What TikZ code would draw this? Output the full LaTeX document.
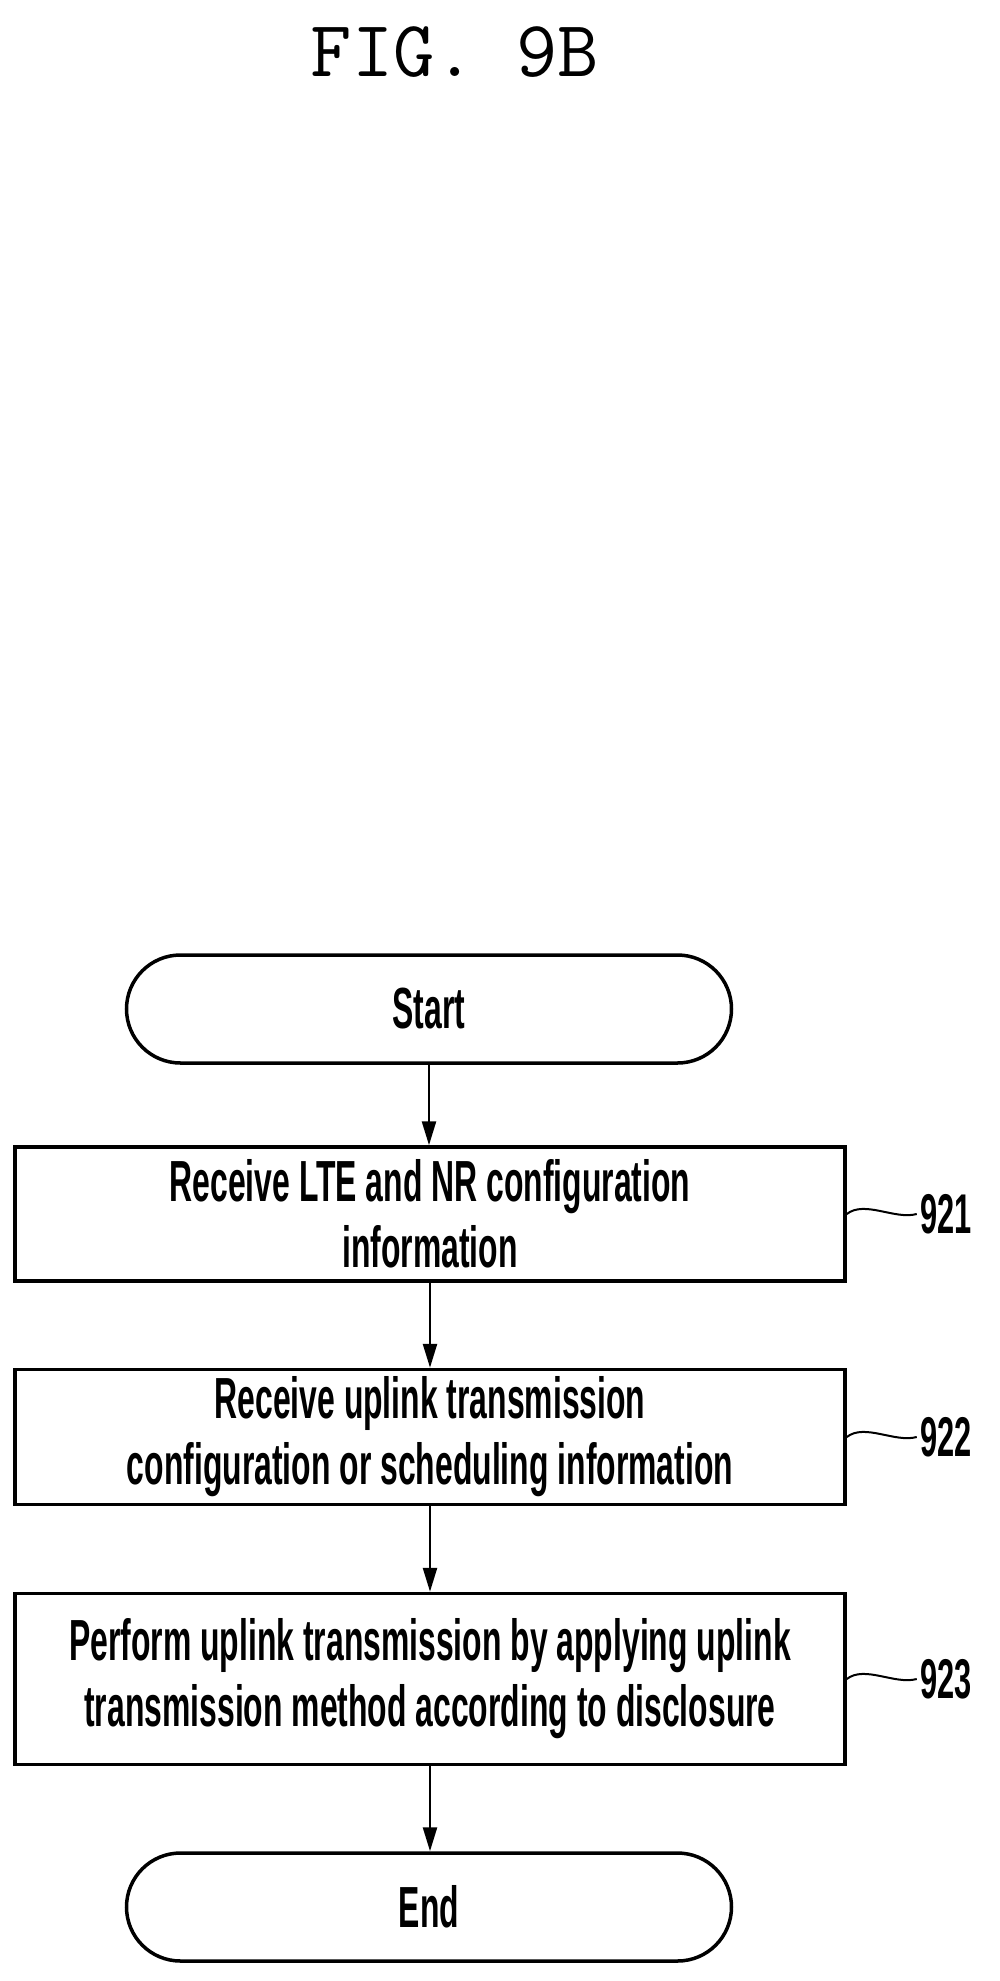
\documentclass[tikz,border=0pt]{standalone}
\usepackage{fontspec}
\newfontfamily\condfont[FakeStretch=0.55]{Liberation Sans}
\usetikzlibrary{arrows.meta,positioning}
\tikzset{
  stepbox/.style={draw,line width=3.5pt,minimum width=830pt,align=center,font=\condfont\bfseries\fontsize{58}{66}\selectfont},
  termbox/.style={draw,line width=3.5pt,rounded corners=54pt,minimum width=605pt,minimum height=108pt,font=\condfont\bfseries\fontsize{58}{66}\selectfont},
  flow/.style={line width=2.5pt,-{Triangle[width=14pt,length=24pt]}},
  reflabel/.style={font=\condfont\bfseries\fontsize{56}{60}\selectfont,anchor=west}
}
\begin{document}
\begin{tikzpicture}[x=1pt,y=-1pt]
  \useasboundingbox (0,0) rectangle (999,1981);

  % title
  \node[font=\ttfamily\fontsize{80}{80}\selectfont] (title) at (455,52) {FIG. 9B};

  % steps
  \node[termbox] (start) at (429,1009) {Start};
  \node[stepbox,minimum height=134pt] (s921) at (430,1214) {Receive LTE and NR configuration\\information};
  \node[stepbox,minimum height=135pt] (s922) at (430,1437) {Receive uplink transmission\\configuration or scheduling information};
  \node[stepbox,minimum height=171pt] (s923) at (430,1679) {Perform uplink transmission by applying uplink\\transmission method according to disclosure};
  \node[termbox] (end) at (429,1907) {End};

  % arrows
  \draw[flow] (start) -- (start|-s921.north);
  \draw[flow] (s921) -- (s921|-s922.north);
  \draw[flow] (s922) -- (s922|-s923.north);
  \draw[flow] (s923) -- (s923|-end.north);

  % reference numbers
  \foreach \s in {921,922,923} {
    \node[reflabel] (l\s) at ([xshift=70pt]s\s.east) {\s};
    \draw[line width=2pt] (s\s.east) .. controls ++(18,-14) and ++(-22,6) .. (l\s.west);
  }
\end{tikzpicture}
\end{document}
